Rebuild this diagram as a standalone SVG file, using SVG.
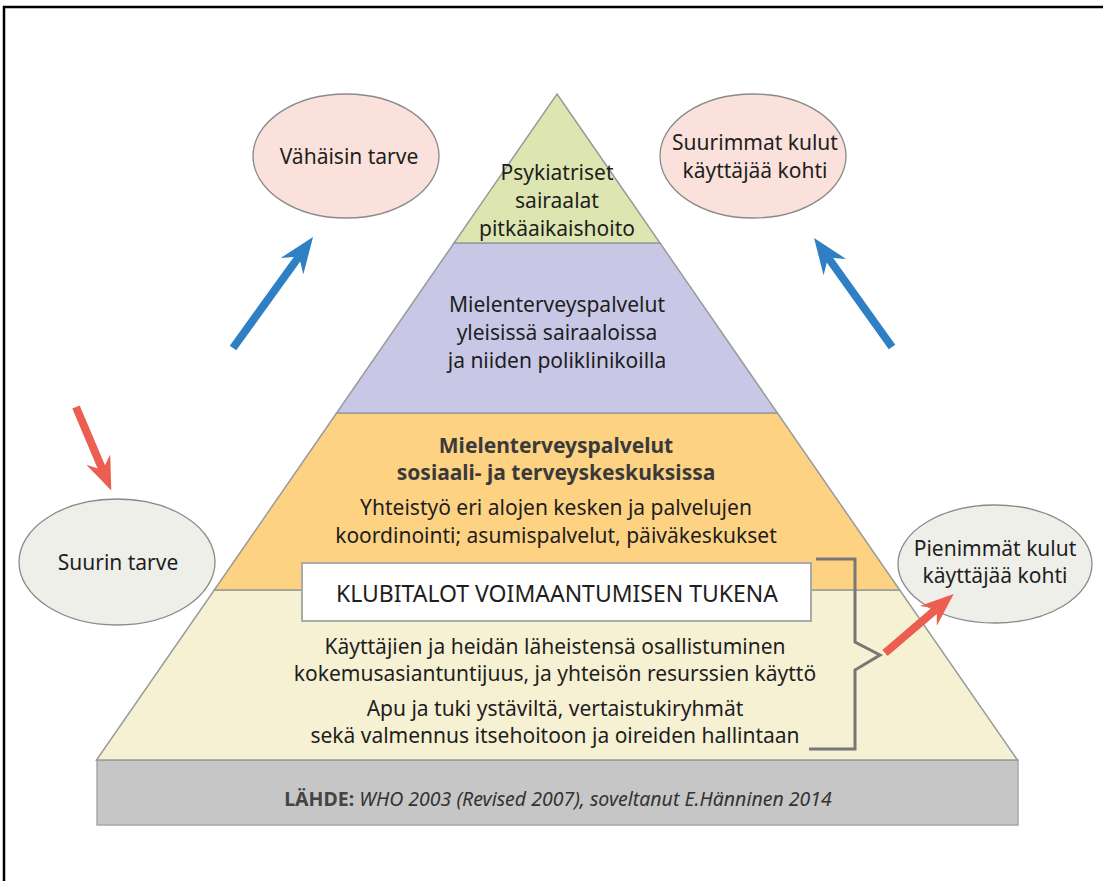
<svg xmlns="http://www.w3.org/2000/svg" width="1103" height="881" viewBox="0 0 1103 881">
<style>
text{font-family:"Noto Sans","Liberation Sans",sans-serif;fill:#1e1e1e;text-anchor:middle}
.t{font-size:21px}
.b{font-size:21px;font-weight:bold;fill:#3a3a3a}
.lay{stroke:#9a9a9a;stroke-width:1.5}
.ell{stroke:#8a8a8a;stroke-width:1.3}
.pink{fill:#fbe1db}
.grey{fill:#efefea}
.blue{stroke:#2e7fc4;stroke-width:8;fill:none}
.red{stroke:#eb5e50;stroke-width:8;fill:none}
</style>
<defs>
<marker id="hb" markerUnits="userSpaceOnUse" viewBox="0 0 36 28" markerWidth="36" markerHeight="28" refX="12" refY="14" orient="auto"><path d="M0,0 L36,14 L0,28 L12,14 z" fill="#2e7fc4"/></marker>
<marker id="hr" markerUnits="userSpaceOnUse" viewBox="0 0 36 28" markerWidth="36" markerHeight="26" refX="12" refY="14" orient="auto"><path d="M0,0 L36,14 L0,28 L12,14 z" fill="#eb5e50"/></marker>
</defs>
<rect x="0" y="0" width="1103" height="881" fill="#fff"/>
<rect x="4" y="7" width="1120" height="900" fill="none" stroke="#000" stroke-width="2.5"/>

<g id="layer-base">
<rect x="97" y="760" width="921" height="65" fill="#c6c6c6" stroke="#a8a8a8" stroke-width="1.5"/>
<text x="558" y="806" style="font-size:19.5px;fill:#333"><tspan font-weight="bold" fill="#444">LÄHDE:</tspan><tspan font-style="italic"> WHO 2003 (Revised 2007), soveltanut E.Hänninen 2014</tspan></text>
</g>
<g id="layer-cream">
<polygon class="lay" points="214.3,590 899.7,590 1017.5,760 96.5,760" fill="#f7f1d4"/>
<text class="t" x="555" y="654">Käyttäjien ja heidän läheistensä osallistuminen</text>
<text class="t" x="555" y="681">kokemusasiantuntijuus, ja yhteisön resurssien käyttö</text>
<text class="t" x="555" y="716">Apu ja tuki ystäviltä, vertaistukiryhmät</text>
<text class="t" x="555" y="743">sekä valmennus itsehoitoon ja oireiden hallintaan</text>
</g>
<g id="layer-orange">
<polygon class="lay" points="336.6,413 777.4,413 899.7,590 214.3,590" fill="#fdd283"/>
<text class="b" x="556" y="453">Mielenterveyspalvelut</text>
<text class="b" x="556" y="480">sosiaali- ja terveyskeskuksissa</text>
<text class="t" x="556" y="515">Yhteistyö eri alojen kesken ja palvelujen</text>
<text class="t" x="556" y="543">koordinointi; asumispalvelut, päiväkeskukset</text>
</g>
<g id="layer-purple">
<polygon class="lay" points="454,243 660,243 777.4,413 336.6,413" fill="#c8c8e6"/>
<text class="t" x="557" y="312">Mielenterveyspalvelut</text>
<text class="t" x="557" y="340">yleisissä sairaaloissa</text>
<text class="t" x="557" y="368">ja niiden poliklinikoilla</text>
</g>
<g id="layer-green">
<polygon class="lay" points="557,94 660,243 454,243" fill="#dde6b0"/>
<text class="t" x="557" y="180">Psykiatriset</text>
<text class="t" x="557" y="208">sairaalat</text>
<text class="t" x="557" y="236">pitkäaikaishoito</text>
</g>
<g id="klubitalot">
<rect x="302" y="563" width="509" height="58" fill="#fff" stroke="#aaa" stroke-width="2"/>
<text x="557" y="602" style="font-size:23px">KLUBITALOT VOIMAANTUMISEN TUKENA</text>
</g>

<g id="vahaisin-tarve">
<ellipse class="ell pink" cx="346" cy="156" rx="93" ry="62"/>
<text class="t" x="349" y="164">Vähäisin tarve</text>
</g>
<g id="suurimmat-kulut">
<ellipse class="ell pink" cx="753" cy="156" rx="93" ry="62"/>
<text class="t" x="755" y="150">Suurimmat kulut</text>
<text class="t" x="755" y="178">käyttäjää kohti</text>
</g>
<g id="suurin-tarve">
<ellipse class="ell grey" cx="117" cy="562" rx="98" ry="63"/>
<text class="t" x="118" y="570">Suurin tarve</text>
</g>
<g id="pienimmat-kulut">
<ellipse class="ell grey" cx="995" cy="564" rx="97" ry="59"/>
<text class="t" x="995" y="556">Pienimmät kulut</text>
<text class="t" x="995" y="583">käyttäjää kohti</text>
</g>

<g id="connectors">
<path class="blue" d="M233,348 L299,256.5" marker-end="url(#hb)"/>
<path class="blue" d="M892,347 L828,257.5" marker-end="url(#hb)"/>
<path class="red" d="M76,407 L102.6,469.9" marker-end="url(#hr)"/>
<path class="red" d="M885,653 L936.8,608.6" marker-end="url(#hr)"/>
<polyline points="816,559 855,559 855,642 880,655 855,670 855,749 809,749" fill="none" stroke="#777" stroke-width="3"/>
</g>
</svg>
